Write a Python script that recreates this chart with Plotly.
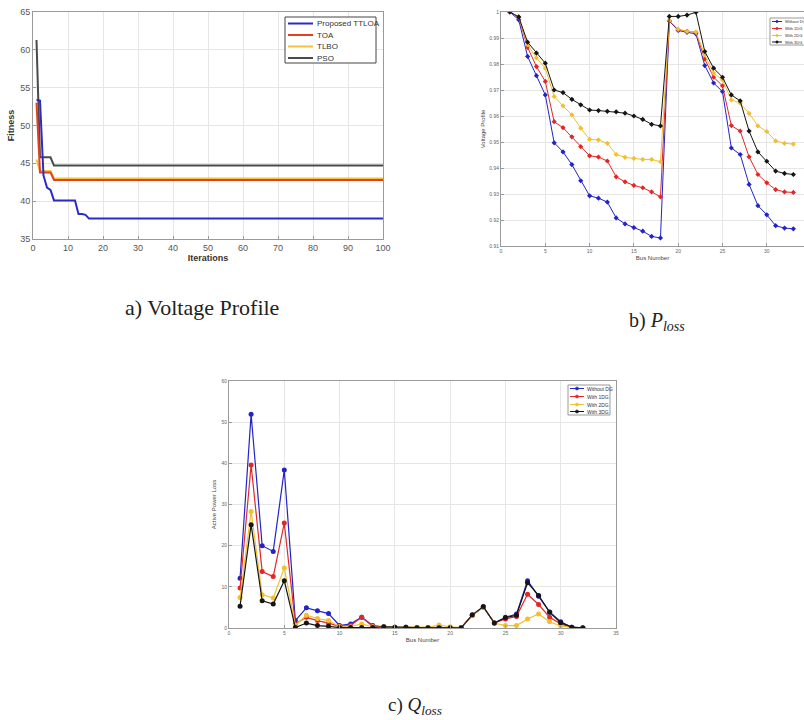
import plotly.graph_objects as go

# ---------- (a) convergence ----------
iterations = list(range(1, 101))
ttloa = [53.4, 53.3, 43.4, 41.8, 41.5, 40.1, 40.1, 40.1, 40.1, 40.1, 40.1, 40.1, 38.3, 38.3, 38.2, 37.7] + [37.7] * 84
toa = [53.0, 43.8, 43.8, 43.8, 43.8, 42.8] + [42.8] * 94
tlbo = [45.5, 44.0, 44.0, 44.0, 44.0, 43.0] + [43.0] * 94
pso = [61.3, 45.8, 45.8, 45.8, 45.8, 44.7] + [44.7] * 94
a_names = ["Proposed TTLOA", "TOA", "TLBO", "PSO"]

# ---------- (b) voltage profile ----------
buses_b = list(range(1, 34))
v_without = [1.0, 0.9970, 0.9829, 0.9755, 0.9681, 0.9497, 0.9462, 0.9413, 0.9351, 0.9293, 0.9284, 0.9269,
             0.9208, 0.9185, 0.9171, 0.9157, 0.9137, 0.9131, 0.9965, 0.9929, 0.9922, 0.9916, 0.9794, 0.9727,
             0.9694, 0.9477, 0.9452, 0.9337, 0.9255, 0.9220, 0.9178, 0.9169, 0.9166]
v_dg1 = [1.0, 0.9980, 0.9864, 0.9790, 0.9733, 0.9578, 0.9555, 0.9520, 0.9482, 0.9447, 0.9442, 0.9427,
         0.9366, 0.9347, 0.9333, 0.9324, 0.9308, 0.9289, 0.9966, 0.9932, 0.9926, 0.9922, 0.9819, 0.9749,
         0.9716, 0.9563, 0.9542, 0.9443, 0.9375, 0.9343, 0.9317, 0.9308, 0.9306]
v_dg2 = [1.0, 0.9981, 0.9874, 0.9823, 0.9784, 0.9675, 0.9639, 0.9604, 0.9553, 0.9510, 0.9508, 0.9495,
         0.9452, 0.9441, 0.9437, 0.9433, 0.9433, 0.9424, 0.9968, 0.9934, 0.9925, 0.9923, 0.9835, 0.9765,
         0.9739, 0.9662, 0.9649, 0.9610, 0.9562, 0.9540, 0.9504, 0.9495, 0.9492]
v_dg3 = [1.0, 0.9981, 0.9884, 0.9842, 0.9803, 0.9700, 0.9690, 0.9664, 0.9643, 0.9623, 0.9621, 0.9618,
         0.9616, 0.9611, 0.9600, 0.9587, 0.9568, 0.9562, 0.9983, 0.9983, 0.9988, 0.9999, 0.9848, 0.9784,
         0.9749, 0.9681, 0.9658, 0.9542, 0.9462, 0.9426, 0.9388, 0.9379, 0.9375]
bc_names = ["Without DG", "With 1DG", "With 2DG", "With 3DG"]

# ---------- (c) losses ----------
buses_c = list(range(1, 33))
l_without = [12.1, 51.9, 20.0, 18.6, 38.4, 1.8, 4.9, 4.2, 3.5, 0.6, 1.0, 2.6, 0.6, 0.3, 0.2, 0.2, 0.1, 0.1, 0.1,
             0.1, 0.1, 3.1, 5.1, 1.2, 2.6, 3.4, 11.5, 7.7, 3.9, 1.5, 0.2, 0.0]
l_dg1 = [9.7, 39.6, 13.7, 12.5, 25.5, 1.0, 2.6, 1.8, 1.2, 0.4, 0.6, 2.6, 0.4, 0.2, 0.1, 0.1, 0.1, 0.1, 0.1,
         0.1, 0.1, 3.1, 5.1, 1.2, 2.2, 2.8, 8.2, 5.7, 2.6, 1.0, 0.1, 0.0]
l_dg2 = [7.4, 28.3, 8.1, 7.3, 14.6, 0.6, 3.1, 2.3, 1.8, 0.3, 0.3, 1.0, 0.3, 0.3, 0.2, 0.2, 0.2, 0.2, 0.7,
         0.3, 0.1, 3.1, 5.1, 1.2, 0.6, 0.6, 2.2, 3.4, 1.5, 0.5, 0.1, 0.0]
l_dg3 = [5.3, 25.1, 6.6, 5.8, 11.5, 0.1, 1.2, 0.6, 0.4, 0.1, 0.1, 0.1, 0.1, 0.3, 0.2, 0.2, 0.05, 0.05, 0.05,
         0.05, 0.05, 3.2, 5.2, 1.2, 2.5, 3.1, 11.0, 7.9, 3.8, 1.3, 0.2, 0.05]

a_colors = ["#2b2bc8", "#e2401f", "#f2c440", "#4a4a4a"]
bc_colors = ["#2323c8", "#e02828", "#f0c030", "#151515"]

W, H = 804, 720
def px(x):
    return x / W
def py(y):
    return 1 - y / H

fig = go.Figure()

# draw order: PSO, TLBO, TOA, TTLOA (blue on top)
for name, ys, col in reversed(list(zip(a_names, [ttloa, toa, tlbo, pso], a_colors))):
    fig.add_trace(go.Scatter(x=iterations, y=ys, name=name, mode="lines", showlegend=False,
                             line=dict(color=col, width=2), xaxis="x", yaxis="y"))

for name, ys, col in zip(bc_names, [v_without, v_dg1, v_dg2, v_dg3], bc_colors):
    fig.add_trace(go.Scatter(x=buses_b, y=ys, name=name, mode="lines+markers", showlegend=False,
                             line=dict(color=col, width=1), marker=dict(color=col, size=4, symbol="diamond"),
                             xaxis="x2", yaxis="y2"))

for name, ys, col in zip(bc_names, [l_without, l_dg1, l_dg2, l_dg3], bc_colors):
    fig.add_trace(go.Scatter(x=buses_c, y=ys, name=name, mode="lines+markers", showlegend=False,
                             line=dict(color=col, width=1.2), marker=dict(color=col, size=5, symbol="circle"),
                             xaxis="x3", yaxis="y3"))

grid = "#e6e6e6"
axcol = "#9a9a9a"
common = dict(showgrid=True, gridcolor=grid, gridwidth=1, showline=True, linecolor=axcol, linewidth=1,
              mirror=True, ticks="inside", ticklen=3, tickcolor=axcol, zeroline=False, automargin=False)

shapes = []
annotations = []

def legend_box(x0, y0, x1, y1, rows, names, colors, lx0, lx1, tx, fsize, lw, marker_r, border):
    shapes.append(dict(type="rect", xref="paper", yref="paper", x0=px(x0), x1=px(x1), y0=py(y1), y1=py(y0),
                       line=dict(color=border, width=1), fillcolor="white", layer="above"))
    for yy, nm, col in zip(rows, names, colors):
        shapes.append(dict(type="line", xref="paper", yref="paper", x0=px(lx0), x1=px(lx1), y0=py(yy), y1=py(yy),
                           line=dict(color=col, width=lw), layer="above"))
        if marker_r:
            mx = (lx0 + lx1) / 2
            shapes.append(dict(type="circle", xref="paper", yref="paper", x0=px(mx - marker_r), x1=px(mx + marker_r),
                               y0=py(yy + marker_r), y1=py(yy - marker_r), fillcolor=col,
                               line=dict(color=col, width=0.5), layer="above"))
        annotations.append(dict(text=nm, x=px(tx), y=py(yy), xref="paper", yref="paper", xanchor="left",
                                yanchor="middle", showarrow=False, font=dict(size=fsize, color="#333")))

legend_box(285, 17, 376, 63, [23.5, 35, 46.5, 58], a_names, a_colors, 288, 313, 315, 8, 2, 0, "#444")
legend_box(770, 18, 810, 45, [21.5, 28.5, 35.5, 42], bc_names, bc_colors, 772, 782, 783, 4, 1, 1.2, "#999")
legend_box(568, 385, 610, 415, [388.5, 396.5, 404.5, 411.5], bc_names, bc_colors, 570, 584, 585, 5, 1, 1.6, "#999")

serif = "Liberation Serif, Times New Roman, serif"
annotations += [
    dict(text="a) Voltage Profile", x=px(202), y=py(307), xref="paper", yref="paper", xanchor="center",
         yanchor="middle", showarrow=False, font=dict(family=serif, size=22, color="#222")),
    dict(text="b) <i>P</i><sub><i>loss</i></sub>", x=px(657), y=py(321), xref="paper", yref="paper",
         xanchor="center", yanchor="middle", showarrow=False, font=dict(family=serif, size=20, color="#222")),
    dict(text="c) <i>Q</i><sub><i>loss</i></sub>", x=px(415), y=py(706), xref="paper", yref="paper",
         xanchor="center", yanchor="middle", showarrow=False, font=dict(family=serif, size=19, color="#222")),
]

fig.update_layout(
    width=W, height=H, margin=dict(l=0, r=0, t=0, b=0),
    paper_bgcolor="white", plot_bgcolor="white", showlegend=False,
    font=dict(family="Liberation Sans, Arial, sans-serif", color="#333"),
    xaxis=dict(domain=[px(33), px(383)], range=[0, 100], dtick=10, anchor="y",
               tickfont=dict(size=9, color="#555"),
               title=dict(text="<b>Iterations</b>", font=dict(size=9, color="#333"), standoff=2), **common),
    yaxis=dict(domain=[py(239), py(12)], range=[35, 65], dtick=5, anchor="x",
               tickfont=dict(size=9, color="#555"),
               title=dict(text="<b>Fitness</b>", font=dict(size=9, color="#333"), standoff=4), **common),
    xaxis2=dict(domain=[px(501), 1.0], range=[0, 34.2], dtick=5, anchor="y2",
                tickfont=dict(size=5, color="#666"),
                title=dict(text="Bus Number", font=dict(size=6, color="#444"), standoff=2), **common),
    yaxis2=dict(domain=[py(246), py(12)], range=[0.91, 1.0], dtick=0.01, anchor="x2",
                tickfont=dict(size=5, color="#666"),
                title=dict(text="Voltage Profile", font=dict(size=6, color="#444"), standoff=3), **common),
    xaxis3=dict(domain=[px(229), px(616)], range=[0, 35], dtick=5, anchor="y3",
                tickfont=dict(size=5, color="#666"),
                title=dict(text="Bus Number", font=dict(size=6, color="#444"), standoff=2), **common),
    yaxis3=dict(domain=[py(628), py(381)], range=[0, 60], dtick=10, anchor="x3",
                tickfont=dict(size=5, color="#666"),
                title=dict(text="Active Power Loss", font=dict(size=6, color="#444"), standoff=4), **common),
    shapes=shapes,
    annotations=annotations,
)

fig.write_html("out.html", config={"displayModeBar": False},
               post_script="document.body.style.margin='0px';document.body.style.overflow='hidden';")
